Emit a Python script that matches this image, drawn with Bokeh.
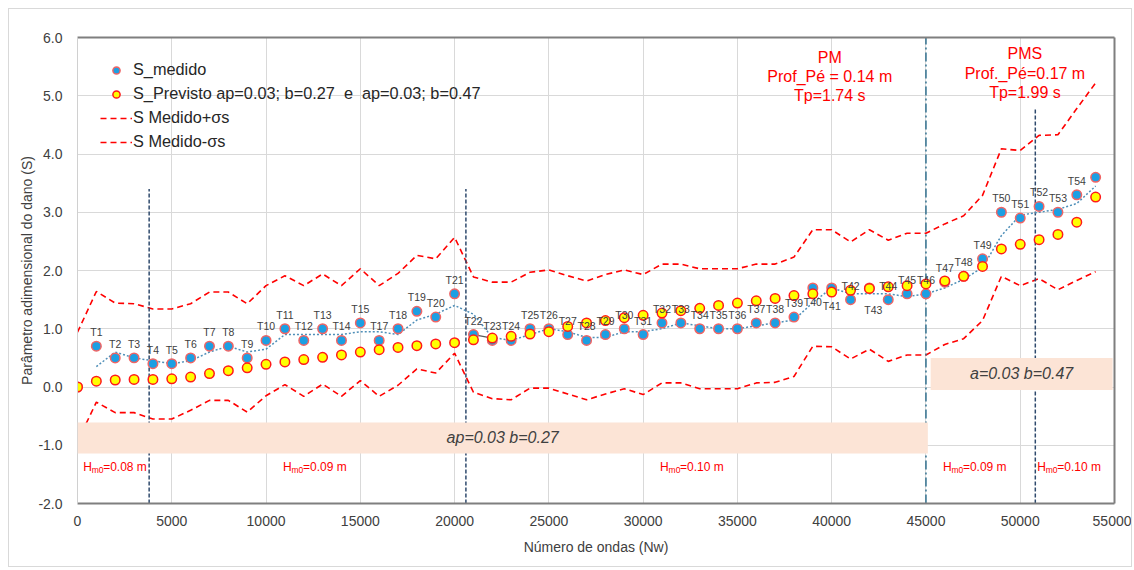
from bokeh.plotting import figure
from bokeh.models import (ColumnDataSource, FixedTicker, PrintfTickFormatter, NumeralTickFormatter,
                          Legend, LegendItem, Label, BoxAnnotation, LinearAxis)
from bokeh.embed import file_html
from bokeh.resources import INLINE
from bokeh.core.properties import value

# ---------------- data ----------------
nw = [i * 1000 for i in range(55)]

s_medido = [0.0,
            0.7, 0.5, 0.5, 0.4, 0.4, 0.5, 0.7, 0.7, 0.5, 0.8,
            1.0, 0.8, 1.0, 0.8, 1.1, 0.8, 1.0, 1.3, 1.2, 1.6,
            0.9, 0.8, 0.8, 1.0, 1.0, 0.9, 0.8, 0.9, 1.0, 0.9,
            1.1, 1.1, 1.0, 1.0, 1.0, 1.1, 1.1, 1.2, 1.7, 1.7,
            1.5, 1.7, 1.5, 1.6, 1.6, 1.8, 1.9, 2.2, 3.0, 2.9,
            3.1, 3.0, 3.3, 3.6]

s_previsto = [0.0,
              0.10, 0.12, 0.13, 0.13, 0.14, 0.17, 0.23, 0.28, 0.33, 0.39,
              0.43, 0.47, 0.51, 0.55, 0.60, 0.64, 0.68, 0.71, 0.74, 0.76,
              0.81, 0.84, 0.87, 0.91, 0.95, 1.04, 1.10, 1.14, 1.19, 1.23,
              1.27, 1.31, 1.35, 1.40, 1.44, 1.48, 1.52, 1.57, 1.60, 1.63,
              1.66, 1.69, 1.72, 1.74, 1.77, 1.82, 1.90, 2.07, 2.37, 2.45,
              2.53, 2.62, 2.83, 3.26]

s_mais_sigma = [0.94,
                1.64, 1.44, 1.43, 1.34, 1.34, 1.43, 1.63, 1.63, 1.43, 1.74,
                1.91, 1.74, 1.94, 1.74, 2.03, 1.74, 1.95, 2.26, 2.20, 2.57,
                1.89, 1.80, 1.80, 1.97, 2.01, 1.91, 1.82, 1.93, 2.01, 1.93,
                2.11, 2.11, 2.03, 2.03, 2.03, 2.11, 2.11, 2.23, 2.70, 2.70,
                2.49, 2.70, 2.52, 2.64, 2.64, 2.80, 2.94, 3.29, 4.09, 4.06,
                4.32, 4.33, 4.78, 5.22]

s_menos_sigma = [-0.94,
                 -0.26, -0.44, -0.44, -0.55, -0.55, -0.40, -0.23, -0.23, -0.43, -0.15,
                 0.04, -0.16, 0.05, -0.16, 0.11, -0.16, 0.03, 0.31, 0.24, 0.58,
                 -0.09, -0.20, -0.22, -0.02, -0.02, -0.12, -0.22, -0.12, -0.03, -0.13,
                 0.07, 0.07, -0.03, -0.03, -0.03, 0.07, 0.08, 0.18, 0.70, 0.69,
                 0.48, 0.65, 0.44, 0.55, 0.55, 0.73, 0.83, 1.14, 1.90, 1.74,
                 1.86, 1.67, 1.83, 1.98]

# point labels (T16 is absent in the original chart)
label_names = ["T%d" % k for k in list(range(1, 16)) + list(range(17, 55))]
label_below = {"T40": 14, "T41": 18, "T43": 22}

x_ticks = list(range(0, 55001, 5000))
y_ticks = [-2, -1, 0, 1, 2, 3, 4, 5, 6]

vlines_dashed = [(3800, 3.4), (20600, 3.4), (50800, 4.8)]
vline_pm = 45000

hm0_labels = [(300, "0.08"), (10900, "0.09"), (30900, "0.10"), (45900, "0.09"), (50900, "0.10")]

FONT = "Liberation Sans"
RED = "#ff0000"

# ---------------- figure ----------------
p = figure(width=1124, height=559, x_range=(0, 55000), y_range=(-2, 6),
           output_backend="svg", toolbar_location=None,
           min_border_left=68, min_border_right=19, min_border_top=28, min_border_bottom=65)
p.styles = {"margin-left": "8px", "margin-top": "8px", "border": "1px solid #d9d9d9"}
p.background_fill_color = "white"
p.border_fill_color = "white"
p.outline_line_color = None

# axes
p.xaxis.ticker = FixedTicker(ticks=x_ticks)
p.yaxis.ticker = FixedTicker(ticks=y_ticks)
p.xaxis.formatter = NumeralTickFormatter(format="0")
p.yaxis.formatter = PrintfTickFormatter(format="%.1f")
for ax in (p.xaxis[0], p.yaxis[0]):
    ax.major_tick_line_color = None
    ax.minor_tick_line_color = None
    ax.major_label_text_font = FONT
    ax.major_label_text_font_size = "14px"
    ax.major_label_text_color = "#404040"
    ax.axis_label_text_font = FONT
    ax.axis_label_text_font_size = "14px"
    ax.axis_label_text_font_style = "normal"
    ax.axis_label_text_color = "#404040"
p.xaxis.axis_label = "Número de ondas (Nw)"
p.yaxis.axis_label = "Parâmetro adimensional do dano (S)"
p.xaxis.axis_line_color = "#7f7f7f"
p.xaxis.axis_line_width = 2
p.yaxis.axis_line_color = "#d0d0d0"
p.xaxis.major_label_standoff = 6
p.yaxis.major_label_standoff = 9
p.xaxis.axis_label_standoff = 10
p.yaxis.axis_label_standoff = 0

for place in ("above", "right"):
    ax = LinearAxis(ticker=FixedTicker(ticks=[]), axis_line_color="#7f7f7f", axis_line_width=2,
                    major_tick_line_color=None, minor_tick_line_color=None,
                    major_label_text_font_size="0px")
    p.add_layout(ax, place)

p.xgrid.ticker = FixedTicker(ticks=x_ticks)
p.ygrid.ticker = FixedTicker(ticks=y_ticks)
p.xgrid.grid_line_color = "#d9d9d9"
p.ygrid.grid_line_color = "#d9d9d9"

src = ColumnDataSource(dict(x=nw, med=s_medido, prev=s_previsto, up=s_mais_sigma, lo=s_menos_sigma))

# sigma lines
r_up = p.line("x", "up", source=src, line_color=RED, line_width=1.6, line_dash="6 4")
r_lo = p.line("x", "lo", source=src, line_color=RED, line_width=1.6, line_dash="6 4")

# vertical lines
for xv, ytop in vlines_dashed:
    p.line([xv, xv], [-2, ytop], line_color="#2f4a6d", line_width=1.5, line_dash="4 2")
p.line([vline_pm, vline_pm], [-2, 6], line_color="#31708f", line_width=1.5, line_dash="9 3 2 3")

# moving average (period 2) trend line
trend_x = nw[1:]
trend_y = [(s_medido[i - 1] + s_medido[i]) / 2 for i in range(1, len(s_medido))]
p.line(trend_x, trend_y, line_color="#4f8fb8", line_width=1.5, line_dash="2 2")

# leader line of the T23 data label
p.line([nw[21], nw[22]], [s_medido[21], s_previsto[22]], line_color="#595959", line_width=1.3)

# points
r_med = p.scatter("x", "med", source=src, size=9.5, fill_color="#1c9fe3", line_color="#f06464", line_width=1.5)
r_prev = p.scatter("x", "prev", source=src, size=9.5, fill_color="#ffff00", line_color="#ff1a1a", line_width=1.5)

# point labels
lx, ly, lyo, lxo = [], [], [], []
for i, name in enumerate(label_names):
    idx = i + 1
    lx.append(nw[idx])
    ly.append(s_medido[idx])
    if name in label_below:
        lyo.append(label_below[name])
        lxo.append(4 if name == "T43" else 0)
    else:
        lyo.append(-14)
        lxo.append(0)
lsrc = ColumnDataSource(dict(x=lx, y=ly, t=label_names, yo=lyo, xo=lxo))
p.text("x", "y", text="t", source=lsrc, x_offset="xo", y_offset="yo", text_align="center",
       text_baseline="middle", text_font=value(FONT), text_font_size="10.5px", text_color="#404040")

# bands (drawn above lines) and their texts
p.add_layout(BoxAnnotation(left=0, right=45100, bottom=-1.14, top=-0.61,
                           fill_color="#fce4d6", fill_alpha=1, line_color=None, level="annotation"))
p.add_layout(BoxAnnotation(left=45250, right=54900, bottom=-0.05, top=0.50,
                           fill_color="#fce4d6", fill_alpha=1, line_color=None, level="annotation"))
band_txt = [(22550, -0.875, "ap=0.03 b=0.27"), (50075, 0.225, "a=0.03 b=0.47")]
for xv, yv, t in band_txt:
    p.add_layout(Label(x=xv, y=yv, text=t, text_align="center", text_baseline="middle",
                       text_font=FONT, text_font_size="16px", text_font_style="italic",
                       text_color="#404040", level="overlay"))

# PM / PMS annotations
for xc, lines, ys in [(39900, ["PM", "Prof_Pé = 0.14 m", "Tp=1.74 s"], [5.66, 5.33, 5.0]),
                      (50250, ["PMS", "Prof._Pé=0.17 m", "Tp=1.99 s"], [5.73, 5.39, 5.06])]:
    for t, yv in zip(lines, ys):
        p.add_layout(Label(x=xc, y=yv, text=t, text_align="center", text_baseline="middle",
                           text_font=FONT, text_font_size="16px", text_color=RED))

# Hm0 labels
for xv, hv in hm0_labels:
    p.add_layout(Label(x=xv, y=-1.38, text="H", text_align="left", text_baseline="middle",
                       text_font=FONT, text_font_size="12px", text_color=RED))
    p.add_layout(Label(x=xv, y=-1.38, x_offset=8.5, y_offset=-3, text="m0", text_align="left",
                       text_baseline="middle", text_font=FONT, text_font_size="8.5px", text_color=RED))
    p.add_layout(Label(x=xv, y=-1.38, x_offset=20, text="=%s m" % hv, text_align="left",
                       text_baseline="middle", text_font=FONT, text_font_size="12px", text_color=RED))

# legend
legend = Legend(items=[LegendItem(label="S_medido", renderers=[r_med]),
                       LegendItem(label="S_Previsto ap=0.03; b=0.27  e  ap=0.03; b=0.47", renderers=[r_prev]),
                       LegendItem(label="S Medido+σs", renderers=[r_up]),
                       LegendItem(label="S Medido-σs", renderers=[r_lo])],
                location="top_left", margin=23, padding=0, spacing=5,
                glyph_width=32, glyph_height=18, label_height=18, label_standoff=1,
                label_text_font=FONT, label_text_font_size="16.3px", label_text_color="#262626",
                border_line_color=None, background_fill_alpha=0)
p.add_layout(legend)

open("out.html", "w").write(file_html(p, INLINE))
